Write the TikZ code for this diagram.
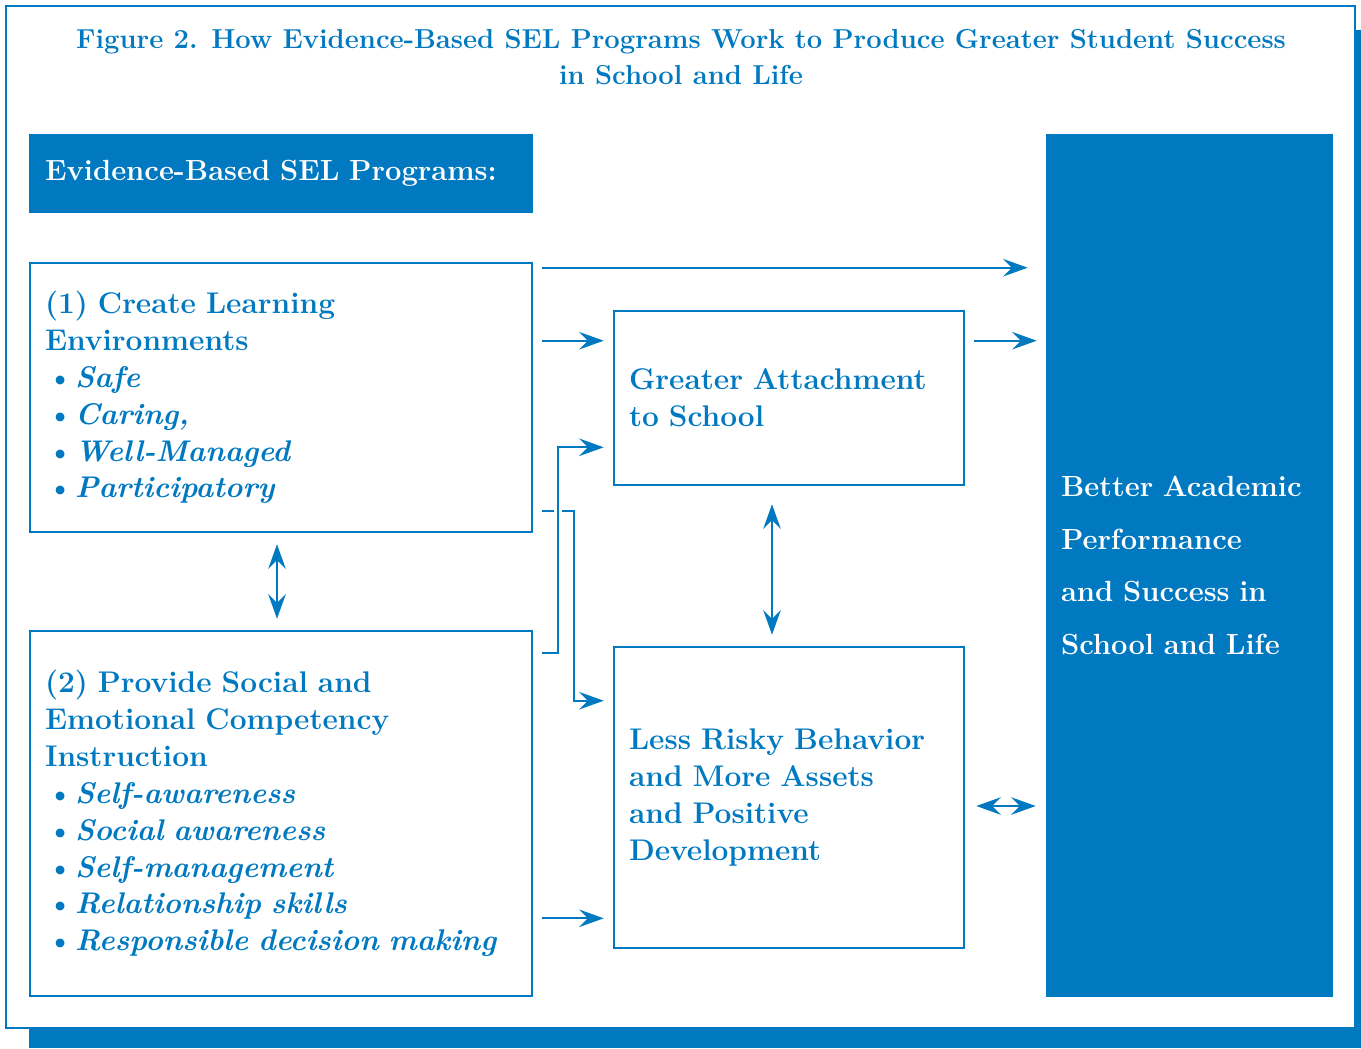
\documentclass[tikz,border=0pt]{standalone}
\usepackage{fontspec}
\usepackage{tikz}
\usetikzlibrary{arrows.meta, positioning, calc}
\definecolor{selblue}{RGB}{0,121,193}
\newcommand{\selitem}[1]{\hspace*{0.04cm}\makebox[0.56cm][l]{\textbullet}\textit{#1}}

\begin{document}
\begin{tikzpicture}[x=0.02cm,y=-0.02cm,
    box/.style={rectangle,draw=selblue,line width=1.5pt,fill=white,text=selblue,align=left,inner xsep=0.3cm,font=\fontsize{17}{21}\selectfont\bfseries},
    solidbox/.style={rectangle,fill=selblue,text=white,align=left,inner xsep=0.3cm},
    arr/.style={-{Stealth[length=14pt,width=10pt,inset=5pt]},line width=1.2pt,draw=selblue},
    dbl/.style={{Stealth[length=14pt,width=10pt,inset=5pt]}-{Stealth[length=14pt,width=10pt,inset=5pt]},line width=1.2pt,draw=selblue}]
    \useasboundingbox (0,0) rectangle (1361,1048);

    % Cornice con ombra
    \fill[selblue] (29,30) rectangle (1361,1048);
    \draw[selblue,fill=white,line width=1.2pt] (6,6) rectangle (1355,1028);

    % Titolo
    \node[text=selblue,align=center,font=\fontsize{15.6}{20.5}\selectfont\bfseries] (title) at (681,57) {Figure 2. How Evidence-Based SEL Programs Work to Produce Greater Student Success\\in School and Life};

    % Intestazione e risultato
    \node[solidbox,minimum width=10.08cm,minimum height=1.58cm,text width=9.44cm,font=\fontsize{16.6}{21}\selectfont\bfseries] (head) at (281,173.5) {Evidence-Based SEL Programs:};
    \node[solidbox,minimum width=5.74cm,minimum height=17.26cm,text width=5.14cm,font=\fontsize{16.6}{30}\selectfont\bfseries] (result) at (1189.5,565.5) {Better Academic\\Performance\\and Success in\\School and Life};

    % Programmi
    \node[box,minimum width=10.04cm,minimum height=5.38cm,text width=9.44cm] (learn) at (281,397.5) {(1) Create Learning\\Environments\\\selitem{Safe}\\\selitem{Caring,}\\\selitem{Well-Managed}\\\selitem{Participatory}};
    \node[box,minimum width=10.04cm,minimum height=7.3cm,text width=9.44cm] (compet) at (281,813.5) {(2) Provide Social and\\Emotional Competency\\Instruction\\\selitem{Self-awareness}\\\selitem{Social awareness}\\\selitem{Self-management}\\\selitem{Relationship skills}\\\selitem{Responsible decision making}};

    % Effetti intermedi
    \node[box,minimum width=7cm,minimum height=3.48cm,text width=6.4cm] (attach) at (789,398) {Greater Attachment\\to School};
    \node[box,minimum width=7cm,minimum height=6.02cm,text width=6.4cm] (risky) at (789,797.5) {Less Risky Behavior\\and More Assets\\and Positive\\Development};

    % Connessioni
    \draw[arr,shorten >=0.36cm] ($(learn.north east)+(9,6)$) coordinate (t1) -- (t1 -| result.west);
    \coordinate (a1) at ($(attach.north west)+(0,31)$);
    \draw[arr,shorten <=0.18cm,shorten >=0.18cm] (learn.east |- a1) -- (a1);
    \draw[arr,shorten <=0.18cm,shorten >=0.18cm] (attach.east |- a1) -- (result.west |- a1);
    \draw[arr] ($(learn.south east)+(9,-22)$) -- ++(32,0) |- ($(risky.north west)+(-9,55)$);
    \draw[arr,preaction={draw=white,line width=0.16cm,-}] ($(compet.north east)+(9,23)$) -- ++(16,0) |- ($(attach.south west)+(-9,-39)$);
    \coordinate (r1) at ($(risky.south west)+(0,-31)$);
    \draw[arr,shorten <=0.18cm,shorten >=0.18cm] (compet.east |- r1) -- (r1);
    \draw[dbl,shorten <=0.22cm,shorten >=0.22cm] ($(learn.south)+(-4,0)$) -- ($(compet.north)+(-4,0)$);
    \draw[dbl,shorten <=0.36cm,shorten >=0.22cm] ($(attach.south)+(-17,0)$) -- ($(risky.north)+(-17,0)$);
    \coordinate (r2) at ($(risky.east)+(0,8.5)$);
    \draw[dbl,shorten <=0.22cm,shorten >=0.2cm] (r2) -- (result.west |- r2);
\end{tikzpicture}
\end{document}
